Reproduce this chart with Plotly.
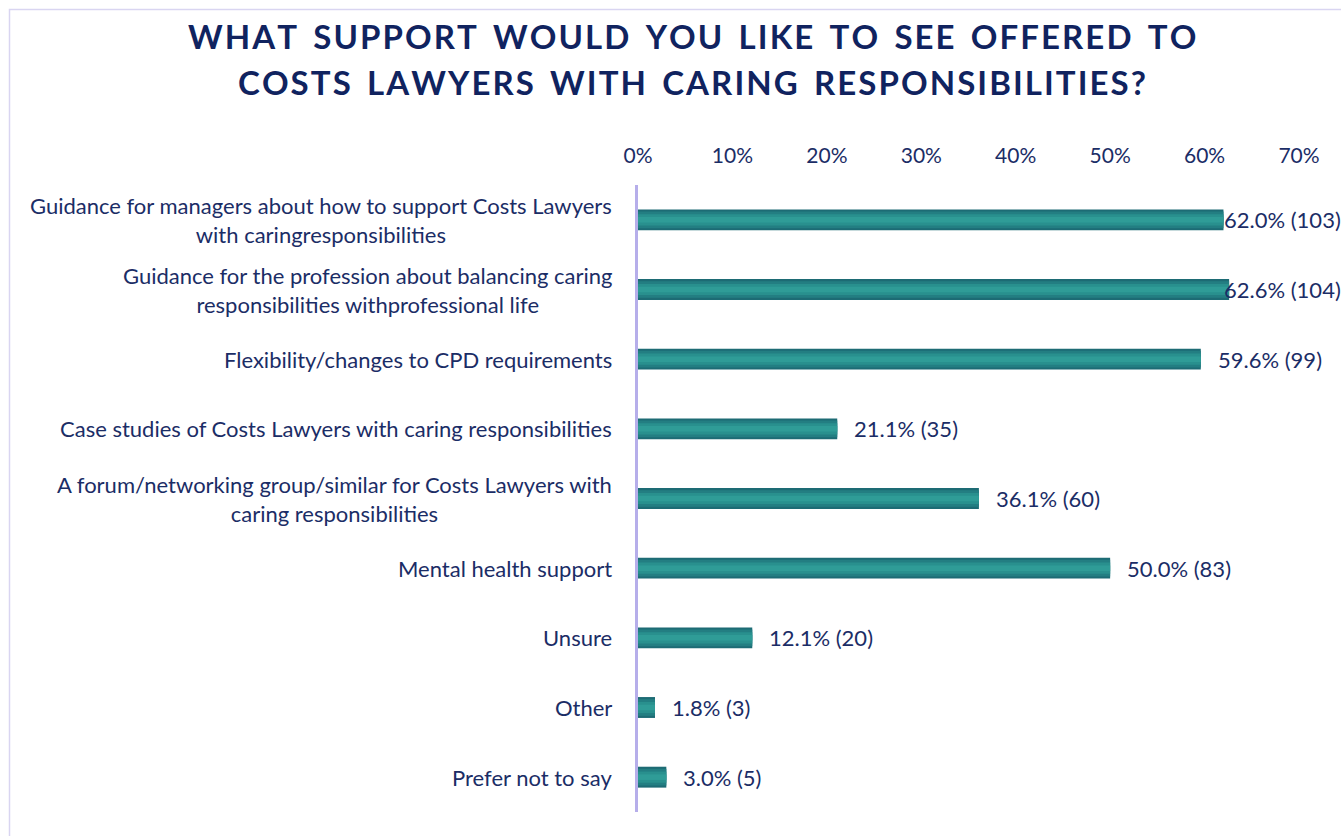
import plotly.graph_objects as go

# Survey answers, top to bottom
categories = [
    "Guidance for managers about how to support Costs Lawyers<br>with caringresponsibilities",
    "Guidance for the profession about balancing caring<br>responsibilities withprofessional life",
    "Flexibility/changes to CPD requirements",
    "Case studies of Costs Lawyers with caring responsibilities",
    "A forum/networking group/similar for Costs Lawyers with<br>caring responsibilities",
    "Mental health support",
    "Unsure",
    "Other",
    "Prefer not to say",
]
percent = [62.0, 62.6, 59.6, 21.1, 36.1, 50.0, 12.1, 1.8, 3.0]
counts = [103, 104, 99, 35, 60, 83, 20, 3, 5]
tick_values = [0, 10, 20, 30, 40, 50, 60, 70]
tick_labels = ["0%", "10%", "20%", "30%", "40%", "50%", "60%", "70%"]

title_lines = [
    "WHAT SUPPORT WOULD YOU LIKE TO SEE OFFERED TO",
    "COSTS LAWYERS WITH CARING RESPONSIBILITIES?",
]

W, H = 1341, 836
ML, MR, MT, MB = 638, 42, 185, 24
NAVY = "#1b2d66"
TITLE_NAVY = "#10235f"
FONT = "Lato"


def spaced(s):
    # widen the title by putting hair spaces between letters
    return "\u200a".join(s.replace(" ", "\u200a "))


fig = go.Figure()

# layered bars give the darker edges / lighter core look
layers = [
    (0.30, "#1d6b74"),
    (0.24, "#237e82"),
    (0.16, "#29908e"),
    (0.08, "#2f9c97"),
]
for width, color in layers:
    fig.add_trace(go.Bar(
        y=categories, x=percent, orientation="h",
        width=width, marker=dict(color=color, line=dict(width=0)),
        hoverinfo="skip", showlegend=False,
    ))

fig.update_layout(barmode="overlay")

# value labels at the bar ends, kept inside the chart on the right
for cat, p, c in zip(categories, percent, counts):
    fig.add_annotation(
        x=min(p + 1.6, 61.8), y=cat, xref="x", yref="y",
        text=f"{p:.1f}% ({c})", showarrow=False,
        xanchor="left", yanchor="middle",
        font=dict(family=FONT, size=22, color=NAVY),
    )

# category labels: block right-aligned, lines centred
for cat in categories:
    fig.add_annotation(
        x=0, y=cat, xref="x", yref="y", xshift=-24,
        text=cat, showarrow=False, xanchor="right", yanchor="middle",
        align="center",
        font=dict(family=FONT, size=22, color=NAVY),
    )

pw = W - ML - MR
ph = H - MT - MB


def px_x(v):
    return (v - ML) / pw


def px_y(v):
    return 1 - (v - MT) / ph


# two-line title
for line, yc in zip(title_lines, [36, 82]):
    fig.add_annotation(
        x=px_x(692), y=px_y(yc), xref="paper", yref="paper",
        text=spaced(line), showarrow=False,
        xanchor="center", yanchor="middle",
        font=dict(family=FONT, size=33, color=TITLE_NAVY, weight="bold"),
    )

# thin frame around the chart
fig.add_shape(type="rect", xref="paper", yref="paper",
              x0=px_x(9.5), x1=px_x(W + 20), y0=px_y(H + 20), y1=px_y(9.5),
              line=dict(color="#d9d5f1", width=1.5), fillcolor="rgba(0,0,0,0)",
              layer="below")

fig.update_layout(
    width=W, height=H,
    margin=dict(l=ML, r=MR, t=MT, b=MB),
    paper_bgcolor="white", plot_bgcolor="white",
    xaxis=dict(
        side="top", range=[0, 70], tickvals=tick_values, ticktext=tick_labels,
        showgrid=False, zeroline=False, showline=False, ticks="",
        tickfont=dict(family=FONT, size=21, color=NAVY),
        ticklabelstandoff=17, fixedrange=True,
    ),
    yaxis=dict(
        categoryorder="array", categoryarray=categories, autorange="reversed",
        showticklabels=False, ticks="", showgrid=False, zeroline=False,
        showline=True, linecolor="#b6aeea", linewidth=3,
    ),
)

fig.write_html("out.html")
